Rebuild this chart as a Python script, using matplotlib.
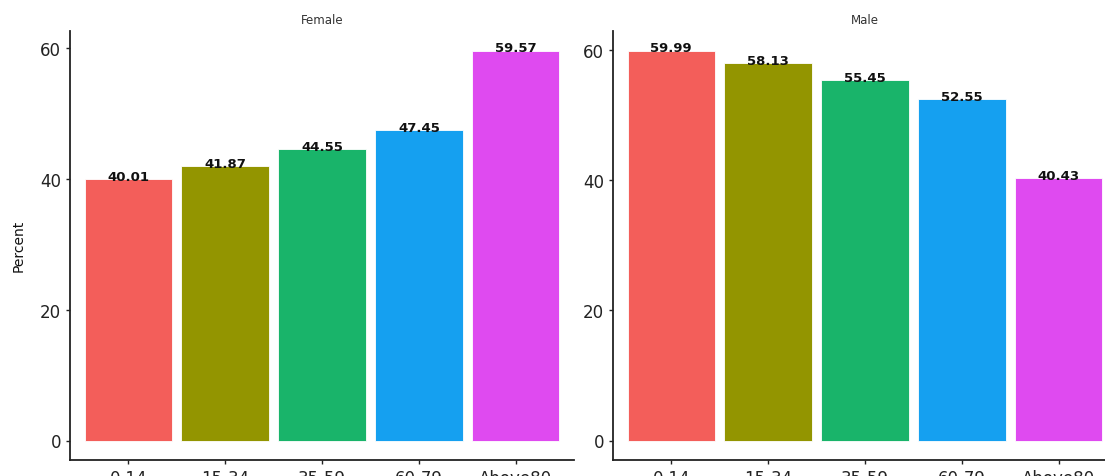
import matplotlib
matplotlib.use("Agg")
import matplotlib.pyplot as plt

categories = ["0-14", "15-34", "35-59", "60-79", "Above80"]
female_values = [40.01, 41.87, 44.55, 47.45, 59.57]
male_values = [59.99, 58.13, 55.45, 52.55, 40.43]
panel_titles = ["Female", "Male"]
y_ticks = [0, 20, 40, 60]
bar_colors = ["#F35E5A", "#939500", "#19B46A", "#15A0F0", "#DF4AF0"]

W, H = 1105, 477
fig = plt.figure(figsize=(W / 100, H / 100), dpi=100)
fig.patch.set_facecolor("white")

axis_col = "#222222"
panel_left = [70, 613]
panel_w = 504
bottom_px, top_px = 461, 32

for i, (title, vals) in enumerate(zip(panel_titles, [female_values, male_values])):
    ax = fig.add_axes([panel_left[i] / W, (H - bottom_px) / H, panel_w / W, (bottom_px - top_px) / H])
    x = list(range(1, len(categories) + 1))
    ax.bar(x, vals, width=0.9, color=bar_colors, edgecolor="#ffffff", linewidth=0.6)
    vmax = max(vals)
    ax.set_ylim(-0.05 * vmax, 1.05 * vmax)
    ax.set_xlim(0.4, 5.6)
    ax.set_xticks(x)
    ax.set_xticklabels(categories)
    ax.set_yticks(y_ticks)
    for v, xi in zip(vals, x):
        ax.text(xi, v - 0.15, f"{v:.2f}", ha="center", va="baseline",
                fontsize=9.5, fontweight="bold", color="#111111", family="DejaVu Sans")
    for s in ["top", "right"]:
        ax.spines[s].set_visible(False)
    for s in ["left", "bottom"]:
        ax.spines[s].set_color(axis_col)
        ax.spines[s].set_linewidth(1.3)
    ax.tick_params(axis="both", length=3, width=1.0, color=axis_col, pad=3.5,
                   labelsize=12, labelcolor="#222222")
    for lab in ax.get_xticklabels() + ax.get_yticklabels():
        lab.set_family("DejaVu Sans")
    ax.set_facecolor("white")
    cx = (panel_left[i] + panel_w / 2) / W
    fig.text(cx, 1 - 21 / H, title, ha="center", va="center", fontsize=8.5,
             color="#333333", family="DejaVu Sans")

fig.text(19 / W, 1 - 246 / H, "Percent", rotation=90, ha="center", va="center",
         fontsize=10, color="#111111", family="DejaVu Sans")

fig.savefig("out.png", dpi=100)
